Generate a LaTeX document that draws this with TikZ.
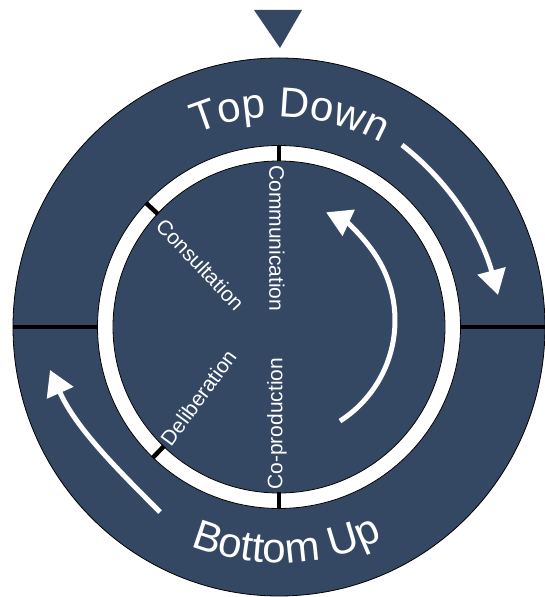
\documentclass[tikz,border=0pt]{standalone}
\usepackage{fontspec}
\setmainfont{Liberation Sans}
\usetikzlibrary{arrows.meta,decorations.text}
\definecolor{navy}{RGB}{53,72,99}
\begin{document}
\begin{tikzpicture}[x=1pt,y=1pt,
  whitearrow/.style={white, line width=5pt, -{Triangle[length=25pt,width=28pt]}},
  tickline/.style={black, line width=4.5pt},
  lbl/.style={text=white, font=\fontsize{21}{25}\selectfont, inner sep=0pt},
  edge/.style={black, line width=0.8pt}
]
\useasboundingbox (0,0) rectangle (545,597);
\coordinate (c) at (279,270);
% outer disc
\fill[navy] (c) ellipse[x radius=266, y radius=269];
\draw[edge] (c) ellipse[x radius=266, y radius=269];
% pointer triangle
\fill[navy] (254,587) -- (302,587) -- (280,549) -- cycle;
% white ring
\fill[white, even odd rule] (c) circle[radius=181.5] (c) circle[radius=166];
\draw[edge] (c) circle[radius=181.5];
\draw[edge] (c) circle[radius=166];
% ticks on ring
\foreach \a in {90,137,226,270}
  \draw[tickline] ([shift={(\a:165.5)}]c) -- ([shift={(\a:182)}]c);
% horizontal separators in outer band
\coordinate (rr) at ([shift={(0:181.5)}]c);
\coordinate (ro) at (545,270);
\coordinate (lr) at ([shift={(180:181.5)}]c);
\coordinate (lo) at (13,270);
\draw[tickline, line width=4pt] (rr) -- (ro);
\draw[tickline, line width=4pt] (lr) -- (lo);
% arrows
\coordinate (tdA) at (402,452);
\coordinate (tdB) at (498,302);
\draw[whitearrow] (tdA) to[out=-38,in=105,looseness=.9] (tdB);
\coordinate (buA) at (160,85);
\coordinate (buB) at (50,227);
\draw[whitearrow] (buA) to[out=135,in=-66,looseness=.9] (buB);
\coordinate (ic) at (275.6,276.5);
\draw[whitearrow] ([shift={(-57.4:119.4)}]ic) arc[start angle=-57.4, end angle=65, radius=119.4];
% curved titles
\path[decorate, decoration={text along path, text={|\fontsize{42}{50}\selectfont|Top Down}, text align=center, text color=white}]
  ([shift={(132:210)}]c) arc[start angle=132, end angle=42, radius=210];
\path[decorate, decoration={text along path, text={|\fontsize{42}{50}\selectfont|Bottom Up}, text align=center, text color=white}]
  ([shift={(227:236)}]c) arc[start angle=227, end angle=317, radius=236];
% inner labels
\node[lbl, rotate=-90, anchor=west] (comm) at (277,432) {Communication};
\node[lbl, rotate=90, anchor=west] (coprod) at (277,107) {Co-production};
\node[lbl, rotate=-46.5, anchor=west] (cons) at (160,375) {Consultation};
\node[lbl, rotate=53.6, anchor=west] (delib) at (165,154) {Deliberation};
\end{tikzpicture}
\end{document}
